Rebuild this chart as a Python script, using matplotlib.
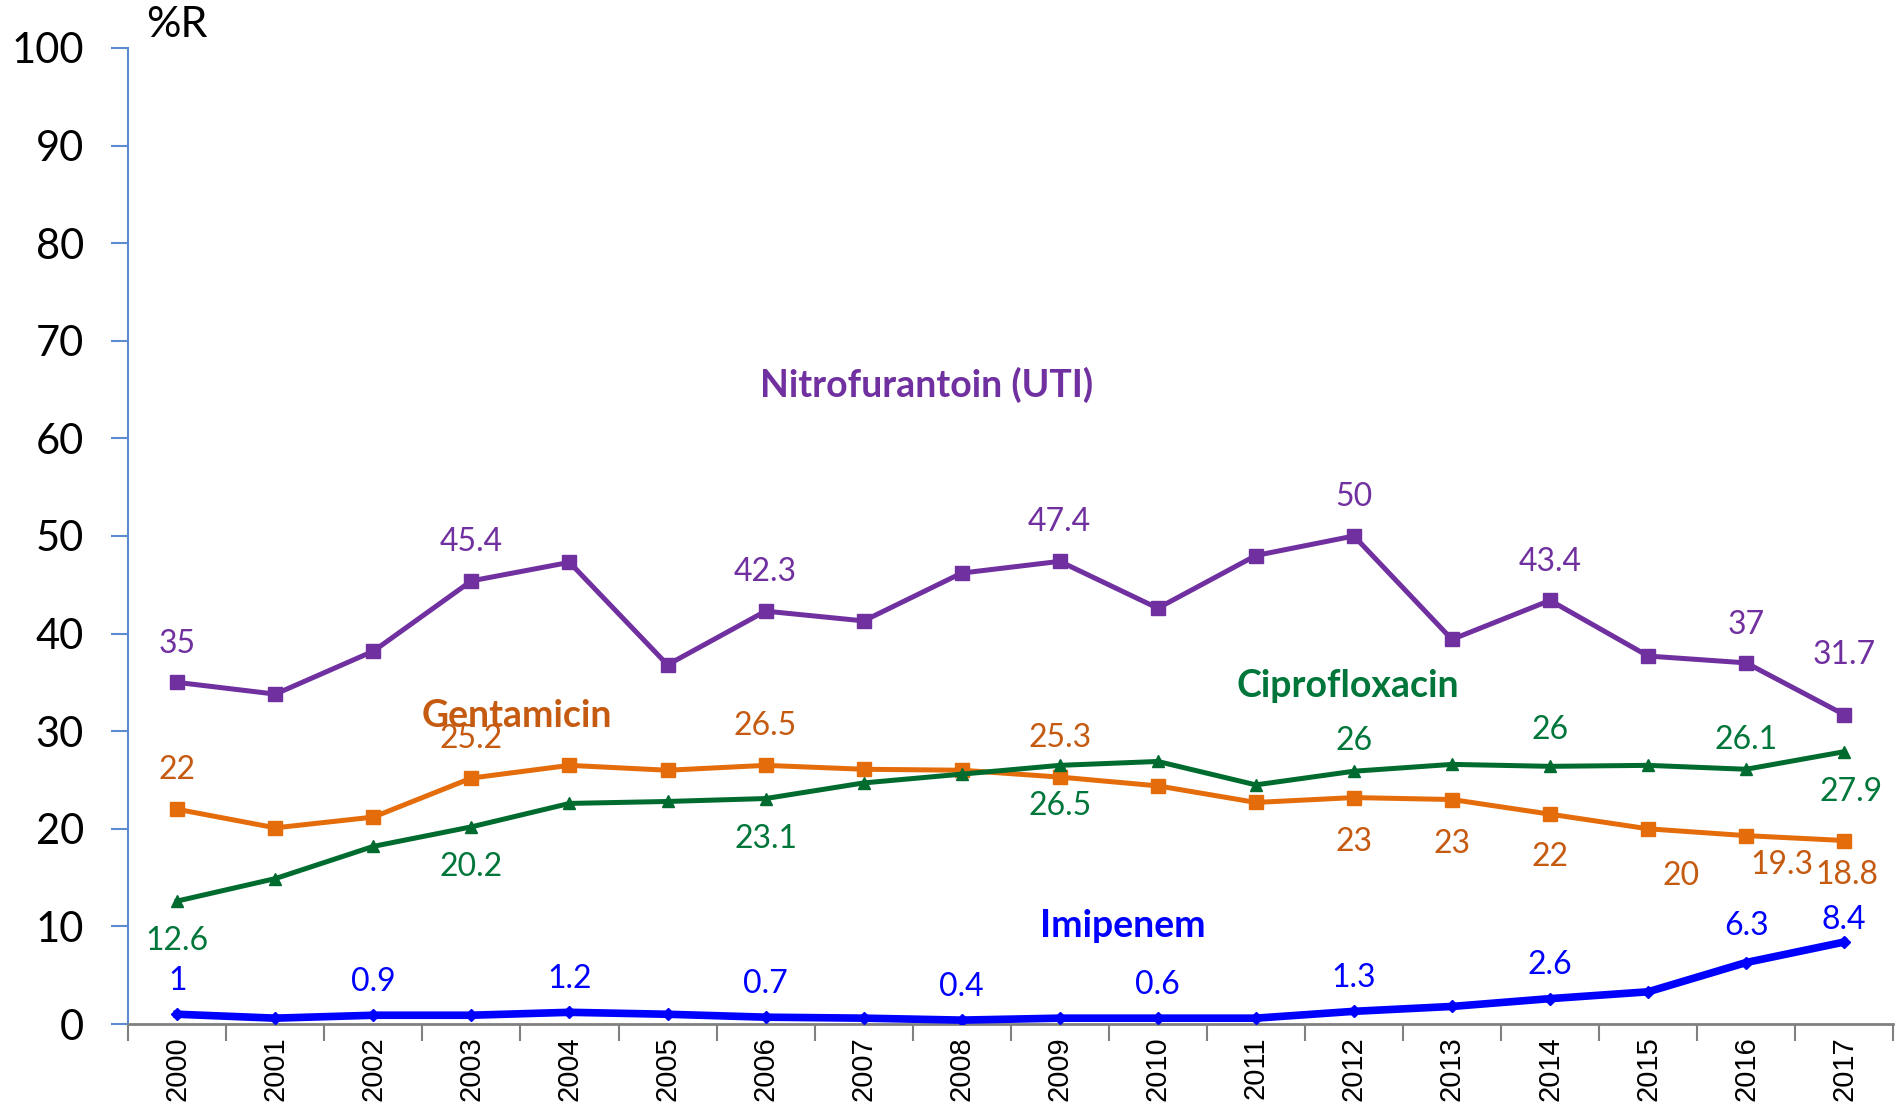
import matplotlib.pyplot as plt

# Data
years = [str(y) for y in range(2000, 2018)]

nitro = [35, 33.8, 38.2, 45.4, 47.3, 36.8, 42.3, 41.3, 46.2, 47.4,
         42.6, 48.0, 50, 39.4, 43.4, 37.7, 37, 31.7]
genta = [22, 20.1, 21.2, 25.2, 26.5, 26.0, 26.5, 26.1, 26.0, 25.3,
         24.4, 22.7, 23.2, 23.0, 21.5, 20.0, 19.3, 18.8]
cipro = [12.6, 14.9, 18.2, 20.2, 22.6, 22.8, 23.1, 24.7, 25.6, 26.5,
         26.9, 24.5, 25.9, 26.6, 26.4, 26.5, 26.1, 27.9]
imipe = [1, 0.6, 0.9, 0.9, 1.2, 1.0, 0.7, 0.6, 0.4, 0.6,
         0.6, 0.6, 1.3, 1.8, 2.6, 3.3, 6.3, 8.4]

# Printed data labels (None = no label)
nitro_lbl = ["35", None, None, "45.4", None, None, "42.3", None, None, "47.4",
             None, None, "50", None, "43.4", None, "37", "31.7"]
genta_lbl = ["22", None, None, "25.2", None, None, "26.5", None, None, "25.3",
             None, None, "23", "23", "22", "20", "19.3", "18.8"]
cipro_lbl = ["12.6", None, None, "20.2", None, None, "23.1", None, None, "26.5",
             None, None, "26", None, "26", None, "26.1", "27.9"]
imipe_lbl = ["1", None, "0.9", None, "1.2", None, "0.7", None, "0.4", None,
             "0.6", None, "1.3", None, "2.6", None, "6.3", "8.4"]

# Label offsets in points (dx, dy)
UP = (0, 28)
DN = (0, -29)
nitro_off = {16: (0, 27), 17: (0, 43)}
genta_off = {i: UP for i in range(12)}
genta_off.update({12: (0, -32), 13: (0, -32), 14: (0, -31), 15: (24, -34),
                  16: (26, -21), 17: (2, -25)})
cipro_off = {i: DN for i in range(12)}
cipro_off.update({12: (0, 22), 14: (0, 26), 16: (0, 21), 17: (5, -29)})
imipe_off = {16: (0, 26), 17: (0, 16)}

PURPLE = "#7030A0"
ORANGE = "#E46C0A"
ORANGE_TXT = "#C55A11"
GREEN = "#006B2F"
GREEN_TXT = "#00763A"
BLUE = "#0000FF"

fig = plt.figure(figsize=(18.97, 11.15), dpi=100)
ax = fig.add_axes([0.0676, 0.0816, 0.9304, 0.8754])

x = list(range(len(years)))

series = [
    (nitro, nitro_lbl, nitro_off, PURPLE, PURPLE, "s", 10, 3.6, UP),
    (genta, genta_lbl, genta_off, ORANGE, ORANGE_TXT, "s", 10, 3.6, UP),
    (cipro, cipro_lbl, cipro_off, GREEN, GREEN_TXT, "^", 9, 3.6, DN),
    (imipe, imipe_lbl, imipe_off, BLUE, BLUE, "D", 6, 5.5, (0, 24)),
]

for vals, lbls, offs, col, tcol, mk, ms, lw, default in series:
    ax.plot(x, vals, color=col, marker=mk, markersize=ms, linewidth=lw, zorder=3)
    for i, (v, t) in enumerate(zip(vals, lbls)):
        if t is None:
            continue
        dx, dy = offs.get(i, default)
        ax.annotate(t, (i, v), xytext=(dx, dy), textcoords="offset points",
                    ha="center", va="center", color=tcol, fontsize=23,
                    family="Lato")

# Series names
ax.text(7.64, 65.5, "Nitrofurantoin (UTI)", color=PURPLE, fontsize=27,
        fontweight="bold", ha="center", va="center", family="Lato")
ax.text(3.46, 31.6, "Gentamicin", color=ORANGE_TXT, fontsize=27,
        fontweight="bold", ha="center", va="center", family="Lato")
ax.text(11.94, 34.6, "Ciprofloxacin", color=GREEN_TXT, fontsize=27,
        fontweight="bold", ha="center", va="center", family="Lato")
ax.text(9.64, 10.0, "Imipenem", color=BLUE, fontsize=27,
        fontweight="bold", ha="center", va="center", family="Lato")

ax.set_xlim(-0.5, len(years) - 0.5)
ax.set_ylim(0, 100)
ax.set_yticks(range(0, 101, 10))
ax.tick_params(axis="y", labelsize=30, color="#5B8BD0", length=12, width=1.5,
               direction="out", pad=20)
for lab in ax.get_yticklabels():
    lab.set_family("Lato")

ax.set_xticks(x)
ax.set_xticklabels(years, rotation=90, fontsize=21, family="Liberation Sans")
ax.set_xticks([i - 0.5 for i in range(len(years) + 1)], minor=True)
ax.tick_params(axis="x", which="major", length=0, pad=9)
ax.tick_params(axis="x", which="minor", length=12, color="#808080", width=1.5)

ax.spines["top"].set_visible(False)
ax.spines["right"].set_visible(False)
ax.spines["left"].set_color("#5B8BD0")
ax.spines["left"].set_linewidth(1.5)
ax.spines["bottom"].set_color("#808080")
ax.spines["bottom"].set_linewidth(2)

fig.text(0.077, 0.978, "%R", fontsize=31, ha="left", va="center", family="Lato")

plt.savefig("out.png", dpi=100)
